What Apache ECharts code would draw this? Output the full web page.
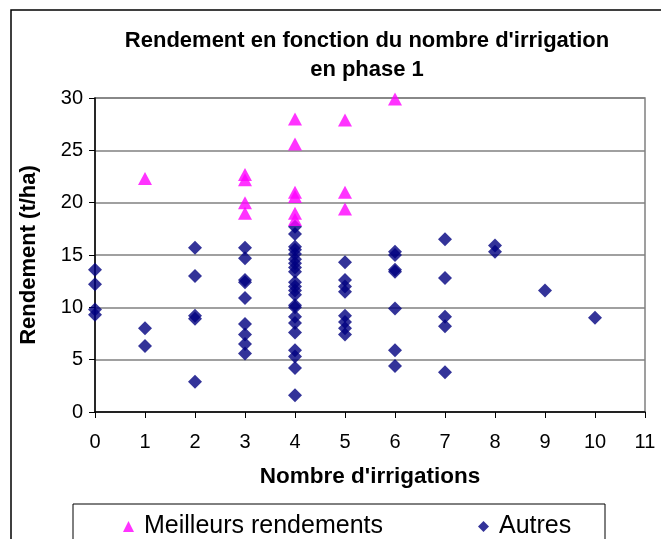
<!DOCTYPE html>
<html lang="fr">
<head>
<meta charset="UTF-8">
<title>Rendement</title>
<style>
  html, body { margin: 0; padding: 0; background: #fff; }
  #chart { width: 661px; height: 539px; }
</style>
</head>
<body>
<div id="chart"></div>
<script src="https://cdn.jsdelivr.net/npm/echarts@6/dist/echarts.min.js"></script>
<script>
// nombre d'irrigations / rendement (t/ha)
var meilleursX = [1, 3, 3, 3, 3, 4, 4, 4, 4, 4, 4, 5, 5, 5, 6];
var meilleursY = [22.3, 22.7, 22.2, 20.0, 19.0, 28.0, 25.6, 21.0, 20.6, 19.0, 18.4, 27.9, 21.0, 19.4, 29.9];

var autresX = [0, 0, 0, 0,
  1, 1,
  2, 2, 2, 2, 2,
  3, 3, 3, 3, 3, 3, 3, 3, 3,
  4, 4, 4, 4, 4, 4, 4, 4, 4, 4, 4, 4, 4, 4, 4, 4, 4, 4, 4, 4, 4, 4,
  5, 5, 5, 5, 5, 5, 5, 5,
  6, 6, 6, 6, 6, 6, 6,
  7, 7, 7, 7, 7,
  8, 8,
  9,
  10];
var autresY = [13.6, 12.2, 9.8, 9.3,
  8.0, 6.3,
  15.7, 13.0, 9.2, 8.9, 2.9,
  15.7, 14.7, 12.6, 12.4, 10.9, 8.4, 7.4, 6.5, 5.6,
  17.7, 17.0, 15.8, 15.5, 15.1, 14.6, 14.2, 13.8, 13.4, 12.4, 12.0, 11.6, 11.2, 10.2, 10.0, 9.1, 8.5, 7.6, 5.9, 5.3, 4.2, 1.6,
  14.3, 12.6, 12.0, 11.5, 9.2, 8.6, 8.0, 7.4,
  15.3, 15.0, 13.6, 13.4, 9.9, 5.9, 4.4,
  16.5, 12.8, 9.1, 8.2, 3.8,
  15.9, 15.3,
  11.6,
  9.0];

var seriesNames = ['Meilleurs rendements', 'Autres'];

function pairs(xs, ys) {
  return xs.map(function (x, i) { return [x, ys[i]]; });
}

var font = 'Liberation Sans, Arial, sans-serif';
var chart = echarts.init(document.getElementById('chart'));

chart.setOption({
  animation: false,
  backgroundColor: '#fff',
  textStyle: { fontFamily: font },
  title: {
    text: "Rendement en fonction du nombre d'irrigation\nen phase 1",
    left: 362,
    textAlign: 'center',
    top: 21,
    textStyle: { fontFamily: font, fontSize: 22, fontWeight: 'bold', color: '#000', lineHeight: 29 }
  },
  grid: {
    left: 95, right: 16, top: 98, bottom: 127,
    show: true, borderColor: '#808080', borderWidth: 1.5
  },
  legend: {
    left: 118, top: 509,
    itemWidth: 11, itemHeight: 11, itemGap: 95,
    textStyle: { fontFamily: font, fontSize: 25, color: '#000', padding: [0, 0, 0, 5] },
    data: [
      { name: seriesNames[0], icon: 'triangle' },
      { name: seriesNames[1], icon: 'diamond' }
    ]
  },
  xAxis: {
    type: 'value', min: 0, max: 11, interval: 1,
    name: "Nombre d'irrigations", nameLocation: 'middle', nameGap: 53,
    nameTextStyle: { fontFamily: font, fontSize: 22.5, fontWeight: 'bold', color: '#000' },
    axisLine: { onZero: false, lineStyle: { color: '#000', width: 1.5 } },
    axisTick: { show: true, length: 6, lineStyle: { color: '#000' } },
    axisLabel: { fontFamily: font, fontSize: 20, color: '#000', margin: 20 },
    splitLine: { show: false }
  },
  yAxis: {
    type: 'value', min: 0, max: 30, interval: 5,
    name: 'Rendement (t/ha)', nameLocation: 'middle', nameGap: 55,
    nameTextStyle: { fontFamily: font, fontSize: 22, fontWeight: 'bold', color: '#000' },
    axisLine: { show: true, onZero: false, lineStyle: { color: '#000', width: 1.5 } },
    axisTick: { show: true, length: 6, lineStyle: { color: '#000' } },
    axisLabel: { fontFamily: font, fontSize: 20, color: '#000', margin: 12 },
    splitLine: { show: true, lineStyle: { color: '#808080', width: 1.5 } }
  },
  graphic: [
    { type: 'rect', shape: { x: 11, y: 10, width: 700, height: 600 },
      style: { fill: 'none', stroke: '#000', lineWidth: 1.5 }, z: -1 },
    { type: 'rect', shape: { x: 73, y: 504, width: 532, height: 60 },
      style: { fill: 'none', stroke: '#000', lineWidth: 1 }, z: -1 }
  ],
  series: [
    {
      name: seriesNames[0], type: 'scatter', symbol: 'triangle', symbolSize: [14, 13],
      itemStyle: { color: '#FF00FF' },
      data: pairs(meilleursX, meilleursY), z: 3
    },
    {
      name: seriesNames[1], type: 'scatter', symbol: 'diamond', symbolSize: 14,
      itemStyle: { color: '#000080' },
      data: pairs(autresX, autresY), z: 2
    }
  ]
});
</script>
</body>
</html>
